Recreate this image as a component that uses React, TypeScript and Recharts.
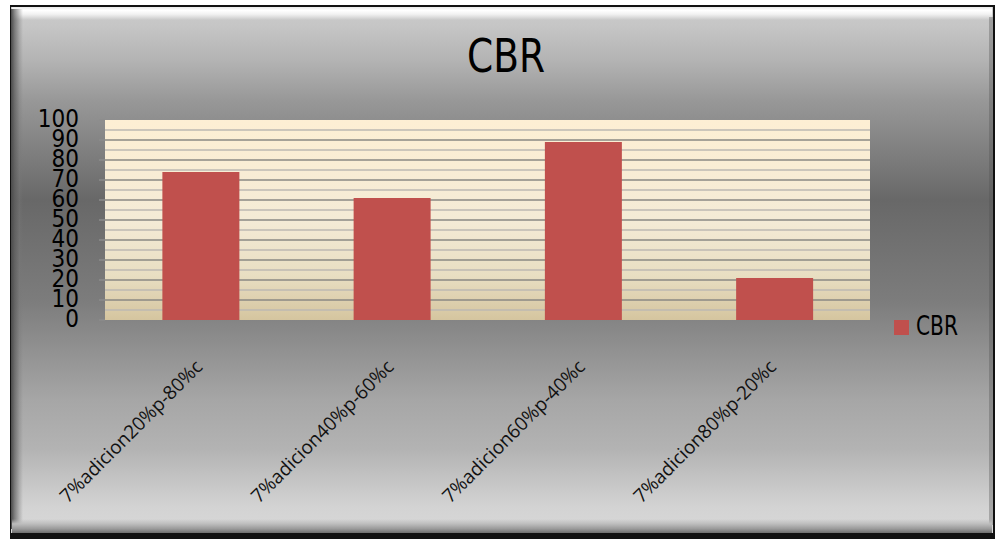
import React from "react";
import {
  BarChart,
  Bar,
  XAxis,
  YAxis,
  CartesianGrid,
  Legend,
} from "recharts";

// Mix proportions and their CBR values
const categories = [
  "7%adicion20%p-80%c",
  "7%adicion40%p-60%c",
  "7%adicion60%p-40%c",
  "7%adicion80%p-20%c",
];
const cbrValues = [74, 61, 89, 21];

const yTicks = [0, 10, 20, 30, 40, 50, 60, 70, 80, 90, 100];
const majorLines = [10, 20, 30, 40, 50, 60, 70, 80, 90];
const minorLines = [5, 15, 25, 35, 45, 55, 65, 75, 85, 95];
const edgeTicks = [0, 1, 2, 3, 4];

const seriesName = "CBR";
const title = "CBR";

const data = categories.map((name, i) => ({ name, CBR: cbrValues[i] }));

const W = 995;
const H = 539;

const NARROW = "'Liberation Sans Narrow', 'DejaVu Sans Condensed', 'Arial Narrow', sans-serif";
const LABEL_FONT = "'Open Sans', 'Noto Sans', sans-serif";
const BAR_COLOR = "#c0504d";

const CategoryTick = (props: any) => {
  const { x, y, payload } = props;
  const ax = x + 3;
  const ay = y + 48;
  return (
    <text
      x={ax}
      y={ay}
      transform={`rotate(-45, ${ax}, ${ay})`}
      textAnchor="end"
      fontFamily={LABEL_FONT}
      fontSize={19}
      fill="#111"
    >
      {payload.value}
    </text>
  );
};

const LegendContent = (props: any) => {
  const items = props.payload || [];
  return (
    <svg width={90} height={32 * Math.max(items.length, 1)}>
      {items.map((it: any, i: number) => (
        <g key={it.value} transform={`translate(0, ${i * 32})`}>
          <rect x={0} y={8} width={15} height={15} fill={it.color} />
          <text
            x={22}
            y={23}
            fontFamily={NARROW}
            fontSize={26}
            fill="#000"
            textLength={42}
            lengthAdjust="spacingAndGlyphs"
          >
            {it.value}
          </text>
        </g>
      ))}
    </svg>
  );
};

export default function App() {
  return (
    <div
      style={{
        position: "absolute",
        left: 0,
        top: 0,
        width: W,
        height: H,
        overflow: "hidden",
        background: "#ffffff",
      }}
    >
      {/* outer frame edge */}
      <div
        style={{
          position: "absolute",
          left: 10,
          top: 5,
          width: W - 10,
          height: H - 5,
          background: "#111",
        }}
      />
      {/* chart area face */}
      <div
        style={{
          position: "absolute",
          left: 11,
          top: 7,
          width: W - 13,
          height: 526,
          background:
            "linear-gradient(to bottom, #cbcbcb 0%, #c6c6c6 3.4%, #b4b4b4 10%, #989898 17.7%, #686868 36.7%, #7c7c7c 55.7%, #8c8c8c 63%, #a6a6a6 74.7%, #b3b3b3 84%, #d3d3d3 95%, #d8d8d8 100%)",
        }}
      />
      {/* bevel: top highlight */}
      <div
        style={{
          position: "absolute",
          left: 12,
          top: 7,
          width: W - 15,
          height: 13,
          background:
            "linear-gradient(to bottom, #e8e8e8 0%, #ffffff 25%, #f2f2f2 55%, rgba(220,220,220,0) 100%)",
        }}
      />
      {/* bevel: left shade */}
      <div
        style={{
          position: "absolute",
          left: 11,
          top: 9,
          width: 12,
          height: 520,
          background:
            "linear-gradient(to right, #4a4a4a 0%, rgba(90,90,90,0.7) 30%, rgba(120,120,120,0.35) 70%, rgba(150,150,150,0) 100%)",
        }}
      />
      {/* bevel: right shade */}
      <div
        style={{
          position: "absolute",
          left: W - 6,
          top: 17,
          width: 4,
          height: 508,
          background: "rgba(80,80,80,0.35)",
        }}
      />
      {/* bevel: bottom */}
      <div
        style={{
          position: "absolute",
          left: 12,
          top: 519,
          width: W - 15,
          height: 14,
          background:
            "linear-gradient(to bottom, rgba(210,210,210,0) 0%, #bdbdbd 35%, #9a9a9a 70%, #6e6e6e 100%)",
        }}
      />

      {/* title */}
      <svg
        width={W}
        height={100}
        style={{ position: "absolute", left: 0, top: 0 }}
      >
        <text
          x={506}
          y={72}
          textAnchor="middle"
          fontFamily={NARROW}
          fontSize={46}
          fill="#000"
          textLength={78}
          lengthAdjust="spacingAndGlyphs"
        >
          {title}
        </text>
      </svg>

      <div style={{ position: "absolute", left: 0, top: 0 }}>
        <BarChart
          width={W}
          height={H}
          data={data}
          margin={{ top: 120, right: 35, bottom: 119, left: 0 }}
          barCategoryGap="30%"
        >
          <defs>
            <linearGradient id="plotFill" x1="0" y1="0" x2="0" y2="1">
              <stop offset="0%" stopColor="#fdefd4" />
              <stop offset="50%" stopColor="#f4ebd6" />
              <stop offset="78%" stopColor="#e8dec2" />
              <stop offset="100%" stopColor="#d5c59f" />
            </linearGradient>
          </defs>
          <CartesianGrid
            vertical={false}
            horizontalValues={minorLines}
            stroke="#bcb9b2"
            strokeWidth={1.5}
            fill="url(#plotFill)"
            fillOpacity={1}
          />
          <CartesianGrid
            vertical={false}
            horizontalValues={majorLines}
            stroke="#8a8883"
            strokeWidth={1.6}
          />
          <XAxis
            xAxisId="edges"
            type="number"
            domain={[0, 4]}
            ticks={edgeTicks}
            tick={false}
            axisLine={false}
            tickLine={{ stroke: "#9a9a9a", strokeWidth: 1 }}
            tickSize={6}
            height={0}
            allowDataOverflow
          />
          <XAxis
            dataKey="name"
            height={100}
            interval={0}
            axisLine={false}
            tickLine={false}
            tickSize={0}
            tickMargin={0}
            tick={<CategoryTick />}
          />
          <YAxis
            domain={[0, 100]}
            ticks={yTicks}
            interval={0}
            width={105}
            axisLine={false}
            tickLine={{ stroke: "#8c8c8c", strokeWidth: 1.5 }}
            tickSize={6}
            tickMargin={20}
            tick={{
              fontFamily: NARROW,
              fontSize: 24,
              fill: "#000",
              dy: -2,
            }}
          />
          <Legend
            layout="horizontal"
            align="right"
            verticalAlign="middle"
            wrapperStyle={{ left: 894, top: 312, width: 90 }}
            content={<LegendContent />}
          />
          <Bar
            dataKey="CBR"
            name={seriesName}
            fill={BAR_COLOR}
            isAnimationActive={false}
          />
        </BarChart>
      </div>
    </div>
  );
}
